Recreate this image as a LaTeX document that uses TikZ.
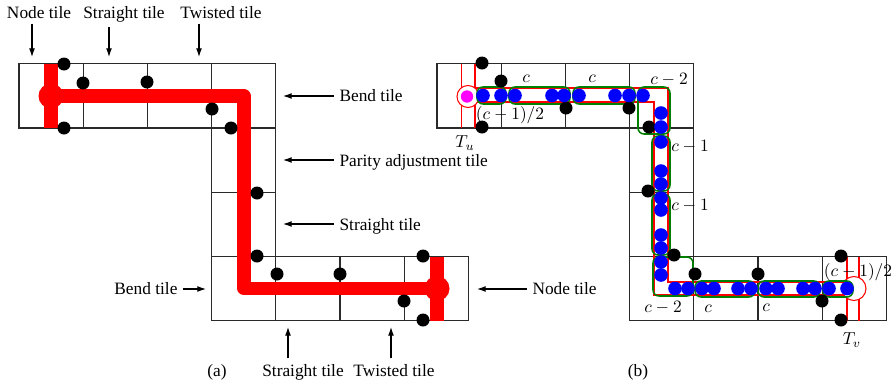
\documentclass[tikz,border=0pt]{standalone}
\usepackage{fontspec}
\setmainfont{Liberation Serif}
\usetikzlibrary{arrows.meta}
\definecolor{pathred}{HTML}{FF0000}
\definecolor{groupgreen}{HTML}{008000}
\definecolor{tokblue}{HTML}{0000FF}
\definecolor{rootpink}{HTML}{FF00FF}
\definecolor{gridgray}{HTML}{2A2A2A}

\begin{document}
\begin{tikzpicture}[x=0.577pt, y=-0.577pt,
    every node/.style={inner sep=3pt},
    lab/.style={anchor=base},
    tile/.style={draw=gridgray, line width=0.7pt},
    arr/.style={-{Latex[length=5pt, width=3.4pt]}, line width=0.6pt},
    route/.style={pathred, line width=7.6pt, line join=round},
    wall/.style={pathred, line width=0.6pt},
    grp/.style={groupgreen, line width=0.9pt, rounded corners=3.5pt},
]
\useasboundingbox (0,0) rectangle (894,386);

% ================================================== (a) the tiles
\foreach \c/\r in {0/0,1/0,2/0,3/0,3/1,3/2,3/3,4/3,5/3,6/3}{
  \draw[tile] ({19+\c*64.2}, {63.8+\r*64.2}) rectangle ++(64.2,64.2);}

% the route, thick
\draw[route] (51,63.8) -- (51,128.2);
\draw[route] (437,256.6) -- (437,321);
\draw[route] (51,96) -- (244,96) -- (244,288.5) -- (437,288.5);
\fill[pathred] (51,96) circle (12.5);
\fill[pathred] (437,288.5) circle (12.5);

\foreach \x/\y in {64/64, 83/83, 147/82, 212/109, 231/128, 64/128,
                   257/193, 257/256, 277/274, 340/274, 404/301,
                   423/256, 423/320}{
  \fill (\x,\y) circle (6.5);}

% what each tile is
\node[lab] (nodeTop) at (39,18) {Node tile};
\node[lab] (straightTop) at (124,18) {Straight tile};
\node[lab] (twistedTop) at (221,18) {Twisted tile};
\coordinate (nodeTopTip) at (32,57);
\coordinate (straightTopTip) at (109,57);
\coordinate (twistedTopTip) at (199,57);
\draw[arr] (nodeTop.south -| nodeTopTip) -- (nodeTopTip);
\draw[arr] (straightTop.south -| straightTopTip) -- (straightTopTip);
\draw[arr] (twistedTop.south -| twistedTopTip) -- (twistedTopTip);

\node[lab, anchor=base west] (bendRight) at (334,101) {Bend tile};
\node[lab, anchor=base west] (parityRight) at (334,166) {Parity adjustment tile};
\node[lab, anchor=base west] (straightRight) at (334,230) {Straight tile};
\coordinate (bendRightTip) at (283,96);
\coordinate (parityRightTip) at (283,160);
\coordinate (straightRightTip) at (283,224);
\draw[arr] (bendRight.west |- bendRightTip) -- (bendRightTip);
\draw[arr] (parityRight.west |- parityRightTip) -- (parityRightTip);
\draw[arr] (straightRight.west |- straightRightTip) -- (straightRightTip);

\node[lab, anchor=base east] (bendLeft) at (183,294) {Bend tile};
\coordinate (bendLeftTip) at (206,289);
\draw[arr] (bendLeft.east |- bendLeftTip) -- (bendLeftTip);
\node[lab, anchor=base west] (nodeRight) at (527,294) {Node tile};
\coordinate (nodeRightTip) at (477,289);
\draw[arr] (nodeRight.west |- nodeRightTip) -- (nodeRightTip);

\node[lab] (straightBot) at (303,376) {Straight tile};
\node[lab] (twistedBot) at (394,376) {Twisted tile};
\coordinate (straightBotTip) at (288,327);
\coordinate (twistedBotTip) at (391,327);
\draw[arr] (straightBot.north -| straightBotTip) -- (straightBotTip);
\draw[arr] (twistedBot.north -| twistedBotTip) -- (twistedBotTip);

\node[lab] (capA) at (217,376) {(a)};

% ================================================== (b) the same tiles
\foreach \c/\r in {0/0,1/0,2/0,3/0,3/1,3/2,3/3,4/3,5/3,6/3}{
  \draw[tile] ({437+\c*64.2}, {63.8+\r*64.2}) rectangle ++(64.2,64.2);}

% the channel
\draw[wall] (461.5,63.8) -- (461.5,128.2);
\draw[wall] (475,63.8) -- (475,128.2);
\draw[wall] (847,256.6) -- (847,321);
\draw[wall] (859,256.6) -- (859,321);
\draw[wall] (468,88) -- (668,88) -- (668,282) -- (854,282);
\draw[wall] (468,102) -- (654,102) -- (654,295) -- (854,295);
\draw[wall, fill=white] (468,96.5) circle (11);
\draw[wall, fill=white] (854,288.5) circle (12);

% the groups
\draw[grp] (477,87) rectangle (506,104);
\draw[grp] (509,87) rectangle (570,104);
\draw[grp] (573,87) rectangle (635,104);
\draw[grp] (638,87) rectangle (670,134);
\draw[grp] (652,136) rectangle (670,191);
\draw[grp] (652,194) rectangle (670,255);
\draw[grp] (653,257) rectangle (693,296);
\draw[grp] (695,281) rectangle (755,297);
\draw[grp] (758,281) rectangle (820,297);
\draw[grp] (823,281) rectangle (853,297);

\foreach \x/\y in {482/63, 501/81, 482/127, 566/108, 629/108, 649/127,
                   648/191, 674/255, 695/274, 758/274, 822/301,
                   841/256, 841/320}{
  \fill (\x,\y) circle (6.5);}

\foreach \x in {483,501,515,552,564,579,615,629,643}{
  \fill[tokblue] (\x,95.5) circle (6.8);}
\foreach \y in {113,127,142,171,184,198,210,235,248,262,275}{
  \fill[tokblue] (661,\y) circle (6.8);}
\foreach \x in {675,688,702,714,738,751,766,778,803,815,829,847}{
  \fill[tokblue] (\x,288.5) circle (6.8);}
\fill[rootpink] (467,96.5) circle (6.2);

% group sizes
\node (cTopA) at (526,79) {$c$};
\node (cTopB) at (592,79) {$c$};
\node (cTopC) at (669,80) {$c-2$};
\node (halfTop) at (510,115.5) {$(c-1)/2$};
\node (tu) at (465,143) {$T_u$};
\node (cSideA) at (690,147) {$c-1$};
\node (cSideB) at (690,206) {$c-1$};
\node (cBotA) at (663,308) {$c-2$};
\node (cBotB) at (708,309) {$c$};
\node (cBotC) at (766,308) {$c$};
\node (halfBot) at (858,272) {$(c-1)/2$};
\node (tv) at (852,340) {$T_v$};

\node[lab] (capB) at (638,376) {(b)};

\end{tikzpicture}
\end{document}
